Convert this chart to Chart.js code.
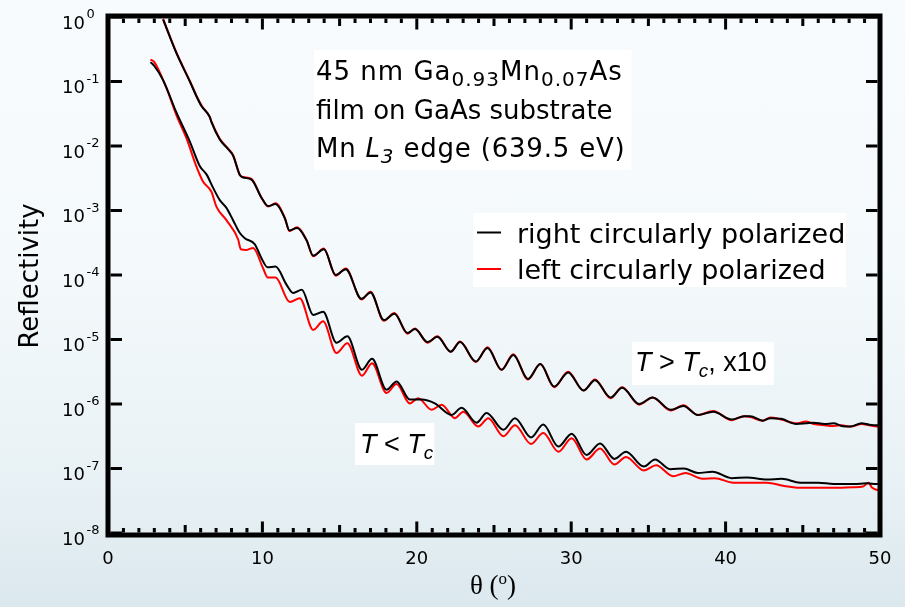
<!DOCTYPE html>
<html>
<head>
<meta charset="utf-8">
<title>Reflectivity vs angle</title>
<script src="https://cdn.jsdelivr.net/npm/chart.js@4.4.0/dist/chart.umd.min.js"></script>
<style>
  html, body { margin: 0; padding: 0; }
  body {
    width: 905px; height: 607px; overflow: hidden;
    background: linear-gradient(to bottom, #f8fbfd 0%, #f4f9fb 45%, #e8f1f5 80%, #dbe8ee 100%);
  }
  #wrap { position: relative; width: 905px; height: 607px; }
  canvas { display: block; }
</style>
</head>
<body>
<div id="wrap"><canvas id="chart" width="905" height="607"></canvas></div>
<script>
// Incidence angle (degrees) and reflectivity, above Tc (scaled x10)
const thetaHot = [3.57,4.43,5.30,5.75,6.05,6.59,6.70,7.24,7.78,8.10,8.54,8.75,9.29,9.94,10.37,10.85,11.45,11.75,12.25,12.86,13.29,13.98,14.75,15.40,16.42,17.00,17.87,18.55,19.40,19.88,20.70,21.33,22.20,22.80,23.82,24.58,25.49,26.25,27.20,28.00,28.90,29.80,30.80,31.54,32.55,33.30,34.40,35.27,36.45,37.27,38.20,39.20,40.40,41.20,41.60,42.40,42.90,43.60,44.60,45.20,45.70,46.40,47.00,47.50,48.10,48.80,49.30,49.80,50.00];
const hotRight = [9.12e-1,2.75e-1,1.00e-1,5.75e-2,4.17e-2,2.82e-2,2.34e-2,1.26e-2,8.91e-3,7.08e-3,3.55e-3,3.24e-3,3.02e-3,1.58e-3,1.17e-3,1.26e-3,7.59e-4,4.90e-4,5.37e-4,3.47e-4,2.00e-4,2.51e-4,1.00e-4,1.23e-4,4.27e-5,5.37e-5,2.00e-5,2.51e-5,1.26e-5,1.45e-5,9.12e-6,1.10e-5,6.46e-6,9.12e-6,4.57e-6,7.41e-6,3.39e-6,5.75e-6,2.45e-6,4.17e-6,1.86e-6,3.09e-6,1.62e-6,2.34e-6,1.26e-6,1.78e-6,1.00e-6,1.26e-6,8.13e-7,9.33e-7,6.76e-7,7.59e-7,5.75e-7,6.46e-7,6.46e-7,5.50e-7,6.03e-7,5.89e-7,4.90e-7,5.01e-7,5.13e-7,4.90e-7,5.01e-7,4.57e-7,4.47e-7,5.01e-7,4.79e-7,4.68e-7,4.79e-7];
const hotLeft = [9.33e-1,2.82e-1,1.02e-1,5.89e-2,4.27e-2,2.82e-2,2.40e-2,1.29e-2,9.12e-3,7.24e-3,3.55e-3,3.31e-3,3.09e-3,1.58e-3,1.15e-3,1.29e-3,7.76e-4,4.79e-4,5.50e-4,3.47e-4,1.95e-4,2.57e-4,9.77e-5,1.26e-4,4.17e-5,5.50e-5,1.95e-5,2.57e-5,1.23e-5,1.48e-5,8.91e-6,1.12e-5,6.46e-6,9.33e-6,4.47e-6,7.59e-6,3.39e-6,5.89e-6,2.40e-6,4.17e-6,1.82e-6,3.16e-6,1.62e-6,2.40e-6,1.23e-6,1.82e-6,9.77e-7,1.26e-6,7.94e-7,9.55e-7,6.76e-7,7.76e-7,5.62e-7,6.46e-7,6.31e-7,5.50e-7,6.17e-7,5.75e-7,5.01e-7,5.37e-7,4.90e-7,4.68e-7,4.57e-7,4.68e-7,4.47e-7,4.90e-7,4.68e-7,4.47e-7,4.37e-7];

// Below Tc
const thetaColdRight = [2.75,3.00,3.57,4.43,5.30,5.94,6.38,6.81,7.24,7.67,8.10,8.54,8.86,9.50,9.94,10.33,10.85,11.56,11.99,12.55,13.29,13.93,14.80,15.50,16.45,17.10,18.04,18.69,19.55,20.31,21.17,22.25,22.90,23.87,24.52,25.61,26.36,27.40,28.19,29.17,30.03,31.00,31.87,32.80,33.55,34.70,35.43,36.40,37.30,38.20,39.15,40.40,41.37,42.67,43.64,44.83,46.00,47.00,48.30,49.15,49.80,50.00];
const coldRight = [2.00e-1,1.74e-1,1.05e-1,3.31e-2,1.17e-2,4.90e-3,3.63e-3,2.24e-3,1.45e-3,1.10e-3,7.08e-4,4.47e-4,3.72e-4,3.02e-4,1.82e-4,1.32e-4,1.35e-4,7.08e-5,5.25e-5,5.89e-5,2.40e-5,2.69e-5,8.91e-6,1.12e-5,3.39e-6,5.01e-6,1.66e-6,2.24e-6,1.17e-6,1.17e-6,1.02e-6,6.76e-7,8.71e-7,5.13e-7,7.24e-7,3.98e-7,6.03e-7,3.02e-7,4.79e-7,2.19e-7,3.47e-7,1.62e-7,2.45e-7,1.41e-7,1.82e-7,1.07e-7,1.38e-7,9.77e-8,1.00e-7,8.51e-8,8.91e-8,7.08e-8,7.24e-8,6.76e-8,6.92e-8,6.03e-8,6.03e-8,5.75e-8,5.75e-8,5.89e-8,5.75e-8,5.89e-8];
const thetaColdLeft = [2.75,3.00,3.78,4.43,5.08,5.73,6.15,6.70,7.02,7.67,8.43,8.60,8.97,9.40,10.05,10.35,10.85,11.78,12.42,13.29,13.93,14.80,15.50,16.45,17.10,18.04,18.69,19.55,20.09,20.96,21.61,22.47,23.01,23.98,24.63,25.61,26.36,27.40,28.19,29.17,30.03,31.00,31.87,32.80,33.55,34.70,35.50,36.60,37.40,38.50,39.30,40.50,41.60,42.67,43.80,44.83,46.00,47.00,48.28,48.90,49.25,49.50,49.90,50.00];
const coldLeft = [2.19e-1,2.00e-1,7.94e-2,3.02e-2,1.32e-2,4.79e-3,2.82e-3,1.95e-3,1.15e-3,7.08e-4,3.55e-4,2.51e-4,2.45e-4,2.63e-4,1.26e-4,9.12e-5,9.12e-5,3.80e-5,4.37e-5,1.41e-5,1.91e-5,6.17e-6,8.71e-6,2.75e-6,4.27e-6,1.48e-6,2.04e-6,1.02e-6,1.23e-6,8.13e-7,9.77e-7,6.03e-7,7.59e-7,4.47e-7,6.03e-7,3.16e-7,4.68e-7,2.40e-7,3.55e-7,1.82e-7,2.95e-7,1.38e-7,2.04e-7,1.15e-7,1.51e-7,9.33e-8,1.12e-7,7.59e-8,8.51e-8,6.92e-8,7.08e-8,6.03e-8,6.03e-8,6.03e-8,5.37e-8,5.01e-8,5.01e-8,5.01e-8,5.13e-8,5.25e-8,6.03e-8,5.01e-8,4.57e-8,4.47e-8];

// Axis tick values
const xTickLabels = [0, 10, 20, 30, 40, 50];
const yDecadeExponents = [0, -1, -2, -3, -4, -5, -6, -7, -8];
const seriesLabels = ['right circularly polarized', 'left circularly polarized'];
const seriesColors = ['#000000', '#ff0000'];

const SANS = '"DejaVu Sans", "Liberation Sans", sans-serif';
const ARIAL = '"Liberation Sans", Arial, sans-serif';
const SERIF = '"Liberation Serif", "DejaVu Serif", serif';

function zip(xs, ys) { return xs.map((x, i) => ({ x: x, y: ys[i] })); }

// Draw a run of text pieces (main / sub / superscript) one after another
function drawRuns(ctx, x, y, runs, spacing) {
  ctx.letterSpacing = (spacing || 0) + 'px';
  for (const r of runs) {
    ctx.font = r.f;
    ctx.fillText(r.t, x, y + (r.dy || 0));
    x += ctx.measureText(r.t).width;
  }
  ctx.letterSpacing = '0px';
  return x;
}
function runsWidth(ctx, runs, spacing) {
  ctx.letterSpacing = (spacing || 0) + 'px';
  let w = 0;
  for (const r of runs) { ctx.font = r.f; w += ctx.measureText(r.t).width; }
  ctx.letterSpacing = '0px';
  return w;
}

// Text boxes with white backgrounds drawn under the curves
const annotations = {
  id: 'annotations',
  beforeDatasetsDraw(chart) {
    const ctx = chart.ctx;
    ctx.save();
    ctx.textAlign = 'left';
    ctx.textBaseline = 'alphabetic';
    const main = '26px ' + SANS, sub = '20px ' + SANS;
    const ital = 'italic 26px ' + SANS, italSub = 'italic 20px ' + SANS;

    // Sample description
    const lines = [
      [{ t: '45 nm Ga', f: main }, { t: '0.93', f: sub, dy: 6 }, { t: 'Mn', f: main }, { t: '0.07', f: sub, dy: 6 }, { t: 'As', f: main }],
      [{ t: 'film on GaAs substrate', f: main }],
      [{ t: 'Mn ', f: main }, { t: 'L', f: ital }, { t: '3', f: italSub, dy: 6 }, { t: ' edge (639.5 eV)', f: main }]
    ];
    const spacings = [1, 0, 0.8];
    const tx = 316, baselines = [80, 118.5, 157];
    let maxW = 0;
    lines.forEach((l, i) => { maxW = Math.max(maxW, runsWidth(ctx, l, spacings[i])); });
    ctx.fillStyle = '#ffffff';
    ctx.fillRect(tx - 2, 50, maxW + 8, 120);
    ctx.fillStyle = '#000';
    lines.forEach((l, i) => drawRuns(ctx, tx, baselines[i], l, spacings[i]));

    // Legend
    const lx = 473, ly = 213;
    const legFont = '27px ' + SANS;
    ctx.fillStyle = '#ffffff';
    ctx.fillRect(lx, ly, 846 - lx, 74);
    const rows = [232.5, 269];
    seriesLabels.forEach((lab, i) => {
      ctx.strokeStyle = seriesColors[i];
      ctx.lineWidth = 2;
      ctx.beginPath();
      ctx.moveTo(477, rows[i]);
      ctx.lineTo(501, rows[i]);
      ctx.stroke();
      ctx.fillStyle = '#000';
      ctx.font = legFont;
      ctx.fillText(lab, 517, rows[i] + 10.3);
    });

    // Temperature labels
    const tMain = 'italic 27px ' + ARIAL, tUp = '27px ' + ARIAL, tSub = 'italic 19px ' + ARIAL;
    const hot = [{ t: 'T', f: tMain }, { t: ' > ', f: tUp }, { t: 'T', f: tMain }, { t: 'c', f: tSub, dy: 6 }, { t: ', x10', f: tUp }];
    const cold = [{ t: 'T', f: tMain }, { t: ' < ', f: tUp }, { t: 'T', f: tMain }, { t: 'c', f: tSub, dy: 6 }];
    ctx.fillStyle = '#ffffff';
    ctx.fillRect(632, 342, runsWidth(ctx, hot) + 10, 43);
    ctx.fillRect(355, 423, runsWidth(ctx, cold) + 6, 42);
    ctx.fillStyle = '#000';
    drawRuns(ctx, 635, 371, hot);
    drawRuns(ctx, 360, 453, cold);
    ctx.restore();
  }
};

// Heavy frame, inward ticks and axis labels
const frame = {
  id: 'frame',
  afterDraw(chart) {
    const ctx = chart.ctx;
    const ca = chart.chartArea;
    const xs = chart.scales.x, ys = chart.scales.y;
    const L = xs.getPixelForValue(0), R = xs.getPixelForValue(50);
    const T = ca.top - 1, B = ca.bottom + 2;
    ctx.save();
    ctx.strokeStyle = '#000';
    ctx.lineWidth = 5;
    ctx.strokeRect(L, T, R - L, B - T);

    ctx.fillStyle = '#000';
    // x ticks: minor every degree, medium every 5, major every 10
    for (let v = 0; v <= 50; v++) {
      const px = xs.getPixelForValue(v);
      const len = v % 10 === 0 ? 11 : (v % 5 === 0 ? 7.5 : 4.5);
      ctx.fillRect(px - 1.5, B - 2.5 - len, 3, len);
      ctx.fillRect(px - 1.5, T + 2.5, 3, len);
    }
    // y ticks at each decade
    yDecadeExponents.forEach(e => {
      const py = ys.getPixelForValue(Math.pow(10, e));
      ctx.fillRect(L + 2.5, py - 1.5, 11.5, 3);
      ctx.fillRect(R - 2.5 - 11.5, py - 1.5, 11.5, 3);
    });

    // y tick labels 10^n
    ctx.textBaseline = 'alphabetic';
    yDecadeExponents.forEach(e => {
      const py = ys.getPixelForValue(Math.pow(10, e));
      ctx.font = '18px ' + SANS;
      ctx.textAlign = 'right';
      ctx.fillText('10', 85, py + 11.5);
      ctx.font = '13px ' + SANS;
      ctx.textAlign = 'left';
      ctx.fillText(e === 0 ? '0' : '-' + (-e), 86.5, py + 1);
    });

    // x tick labels
    ctx.font = '18px ' + SANS;
    ctx.textAlign = 'center';
    xTickLabels.forEach(v => {
      ctx.fillText(String(v), xs.getPixelForValue(v), 563.5);
    });

    // y axis title
    ctx.save();
    ctx.translate(31, 276);
    ctx.rotate(-Math.PI / 2);
    ctx.font = '26px ' + SANS;
    ctx.textAlign = 'center';
    ctx.textBaseline = 'middle';
    ctx.fillText('Reflectivity', 0, 0);
    ctx.restore();

    // x axis title: θ (°)
    const xt = [{ t: 'θ (', f: '27px ' + SERIF }, { t: 'o', f: '17px ' + SERIF, dy: -10 }, { t: ')', f: '27px ' + SERIF }];
    ctx.textAlign = 'left';
    const w = runsWidth(ctx, xt);
    drawRuns(ctx, 493 - w / 2, 594, xt);
    ctx.restore();
  }
};

const ds = (label, pts, color, order) => ({
  label: label,
  data: pts,
  borderColor: color,
  backgroundColor: color,
  borderWidth: 2,
  pointRadius: 0,
  fill: false,
  cubicInterpolationMode: 'monotone',
  order: order
});

new Chart(document.getElementById('chart'), {
  type: 'line',
  data: {
    datasets: [
      ds(seriesLabels[0], zip(thetaColdRight, coldRight), seriesColors[0], 0),
      ds(seriesLabels[1], zip(thetaColdLeft, coldLeft), seriesColors[1], 1),
      ds(seriesLabels[0] + ' (T > Tc, x10)', zip(thetaHot, hotRight), seriesColors[0], 0),
      ds(seriesLabels[1] + ' (T > Tc, x10)', zip(thetaHot, hotLeft), seriesColors[1], 1)
    ]
  },
  options: {
    responsive: false,
    animation: false,
    devicePixelRatio: 1,
    layout: { padding: { left: 108, right: 25, top: 17, bottom: 74 } },
    scales: {
      x: { type: 'linear', min: 0, max: 50, display: false },
      y: { type: 'logarithmic', min: 1e-8, max: 1, display: false }
    },
    plugins: { legend: { display: false }, tooltip: { enabled: false } }
  },
  plugins: [annotations, frame]
});
</script>
</body>
</html>
